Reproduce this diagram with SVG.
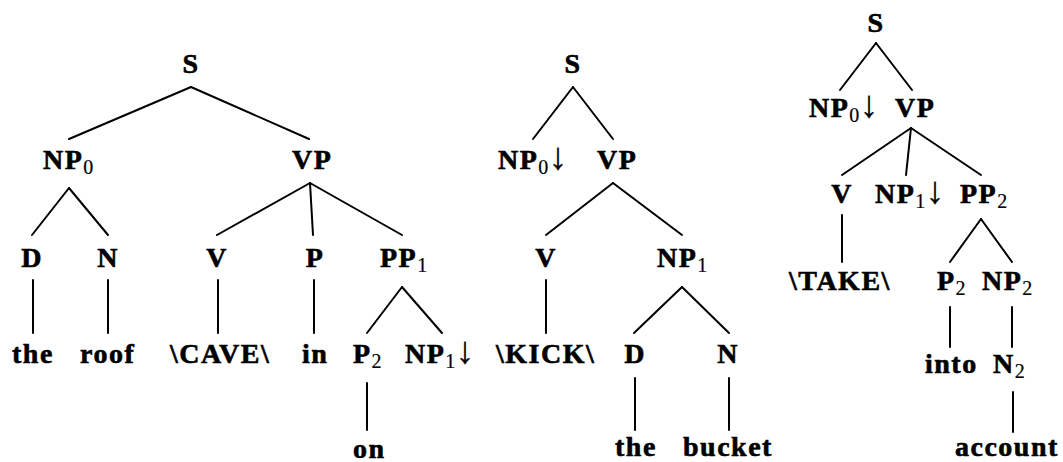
<svg xmlns="http://www.w3.org/2000/svg" width="1063" height="462" viewBox="0 0 1063 462">
<style>
text{font-family:"Liberation Serif","Times New Roman",serif;font-weight:bold;font-size:28px;fill:#000;stroke:#000;stroke-width:0.6px;letter-spacing:1.5px}
.m{text-anchor:middle}
.sub{font-weight:normal;font-size:20px;letter-spacing:0;stroke-width:0.2px}
.ar{font-weight:normal;font-size:38px;letter-spacing:0;stroke-width:0.2px}
#edges line{stroke:#000;stroke-width:2;stroke-linecap:round}
</style>
<rect width="1063" height="462" fill="#fff"/>
<g id="edges">
<line x1="191" y1="87" x2="69" y2="139"/><line x1="191" y1="87" x2="309" y2="139"/>
<line x1="69" y1="188" x2="32" y2="235"/><line x1="69" y1="188" x2="108" y2="235"/>
<line x1="310" y1="183" x2="217" y2="235"/><line x1="310" y1="183" x2="313" y2="235"/><line x1="310" y1="183" x2="402" y2="235"/>
<line x1="33" y1="280" x2="33" y2="333"/><line x1="108" y1="280" x2="108" y2="333"/><line x1="218" y1="280" x2="218" y2="333"/><line x1="314" y1="280" x2="314" y2="333"/>
<line x1="402" y1="287" x2="367" y2="333"/><line x1="402" y1="287" x2="442" y2="333"/>
<line x1="367" y1="383" x2="367" y2="430"/>
<line x1="573" y1="87" x2="533" y2="139"/><line x1="573" y1="87" x2="613" y2="139"/>
<line x1="613" y1="183" x2="546" y2="235"/><line x1="613" y1="183" x2="682" y2="235"/>
<line x1="546" y1="280" x2="546" y2="333"/>
<line x1="682" y1="287" x2="634" y2="333"/><line x1="682" y1="287" x2="729" y2="333"/>
<line x1="635" y1="378" x2="635" y2="430"/><line x1="729" y1="378" x2="729" y2="430"/>
<line x1="876" y1="43" x2="840" y2="90"/><line x1="876" y1="43" x2="912" y2="90"/>
<line x1="911" y1="128" x2="842" y2="175"/><line x1="911" y1="128" x2="906" y2="175"/><line x1="911" y1="128" x2="981" y2="175"/>
<line x1="842" y1="215" x2="842" y2="262"/>
<line x1="981" y1="219" x2="950" y2="262"/><line x1="981" y1="219" x2="1012" y2="262"/>
<line x1="950" y1="307" x2="950" y2="347"/><line x1="1012" y1="307" x2="1012" y2="347"/>
<line x1="1013" y1="392" x2="1013" y2="432"/>
</g>
<g id="t1-S"><text class="m" x="191" y="73">S</text></g>
<g id="t1-NP0"><text x="43" y="169">NP<tspan class="sub" dy="5">0</tspan></text></g>
<g id="t1-VP"><text x="292" y="169">VP</text></g>
<g id="t1-D"><text class="m" x="32" y="267">D</text></g>
<g id="t1-N"><text class="m" x="108" y="267">N</text></g>
<g id="t1-V"><text class="m" x="217" y="267">V</text></g>
<g id="t1-P"><text class="m" x="315" y="267">P</text></g>
<g id="t1-PP1"><text x="380" y="267">PP<tspan class="sub" dy="5">1</tspan></text></g>
<g id="t1-the"><text x="12" y="363">the</text></g>
<g id="t1-roof"><text x="80" y="363">roof</text></g>
<g id="t1-CAVE"><text x="170" y="363">\CAVE\</text></g>
<g id="t1-in"><text x="302" y="363">in</text></g>
<g id="t1-P2"><text x="353" y="363">P<tspan class="sub" dy="5">2</tspan></text></g>
<g id="t1-NP1"><text x="405" y="363">NP<tspan class="sub" dy="5">1</tspan><tspan class="ar" dy="-5">↓</tspan></text></g>
<g id="t1-on"><text x="353" y="458">on</text></g>
<g id="t2-S"><text class="m" x="573" y="73">S</text></g>
<g id="t2-NP0"><text x="498" y="169">NP<tspan class="sub" dy="5">0</tspan><tspan class="ar" dy="-5">↓</tspan></text></g>
<g id="t2-VP"><text x="597" y="169">VP</text></g>
<g id="t2-V"><text class="m" x="546" y="267">V</text></g>
<g id="t2-NP1"><text x="657" y="267">NP<tspan class="sub" dy="5">1</tspan></text></g>
<g id="t2-KICK"><text x="496" y="363">\KICK\</text></g>
<g id="t2-D"><text class="m" x="635" y="363">D</text></g>
<g id="t2-N"><text class="m" x="728" y="363">N</text></g>
<g id="t2-the"><text x="615" y="456">the</text></g>
<g id="t2-bucket"><text x="683" y="456">bucket</text></g>
<g id="t3-S"><text class="m" x="876" y="32">S</text></g>
<g id="t3-NP0"><text x="809" y="117">NP<tspan class="sub" dy="5">0</tspan><tspan class="ar" dy="-5">↓</tspan></text></g>
<g id="t3-VP"><text x="895" y="117">VP</text></g>
<g id="t3-V"><text class="m" x="842" y="203">V</text></g>
<g id="t3-NP1"><text x="875" y="203">NP<tspan class="sub" dy="5">1</tspan><tspan class="ar" dy="-5">↓</tspan></text></g>
<g id="t3-PP2"><text x="960" y="203">PP<tspan class="sub" dy="5">2</tspan></text></g>
<g id="t3-TAKE"><text x="789" y="290">\TAKE\</text></g>
<g id="t3-P2"><text x="937" y="290">P<tspan class="sub" dy="5">2</tspan></text></g>
<g id="t3-NP2"><text x="982" y="290">NP<tspan class="sub" dy="5">2</tspan></text></g>
<g id="t3-into"><text x="925" y="373">into</text></g>
<g id="t3-N2"><text x="993" y="373">N<tspan class="sub" dy="5">2</tspan></text></g>
<g id="t3-account"><text x="955" y="456">account</text></g>
</svg>
